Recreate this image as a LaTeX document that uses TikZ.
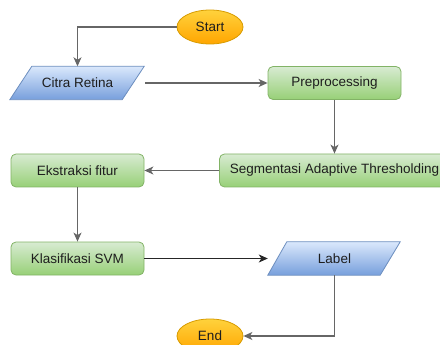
\documentclass[tikz,border=0pt]{standalone}
\usepackage{fontspec}
\setmainfont{Liberation Sans}
\usetikzlibrary{arrows.meta,shapes.geometric}
\definecolor{txt}{HTML}{1E1E1E}
\definecolor{orT}{HTML}{FFD23C}
\definecolor{orD}{HTML}{FFA500}
\definecolor{orB}{HTML}{D79B00}
\definecolor{grT}{HTML}{D8EBD2}
\definecolor{grD}{HTML}{97D077}
\definecolor{grB}{HTML}{82B366}
\definecolor{blT}{HTML}{DAE8FC}
\definecolor{blD}{HTML}{779FDC}
\definecolor{blB}{HTML}{6C8EBF}
\definecolor{lineG}{HTML}{666666}
\begin{document}
\begin{tikzpicture}[x=1pt,y=-1pt,
  font=\fontsize{13.5}{15}\selectfont, text=txt,
  proc/.style={rectangle, rounded corners=5pt, draw=grB, top color=grT, bottom color=grD,
    minimum width=133pt, minimum height=33pt, inner sep=0pt, line width=0.8pt},
  term/.style={ellipse, draw=orB, top color=orT, bottom color=orD,
    minimum width=66pt, minimum height=34pt, inner sep=0pt, line width=0.8pt},
  iobox/.style={rectangle, minimum width=135pt, minimum height=33pt, inner sep=0pt},
  para/.style={draw=blB, top color=blT, bottom color=blD, line width=0.8pt},
  conn/.style={draw=lineG, line width=1.2pt, -{Stealth[length=9pt,width=8pt,inset=2.5pt]}}
]
\useasboundingbox (0,0) rectangle (440,345);
\clip (0,0) rectangle (440,345);
% parallelogram backgrounds (anchors from the named boxes below)
\path (77.5,83) node[iobox] (citra) {};
\path (334.5,258.5) node[iobox, minimum width=133pt] (label) {};
\path[para] (citra.south west) -- ([xshift=22pt]citra.north west) -- ([xshift=-1pt]citra.north east)
  -- ([xshift=-23pt]citra.south east) -- cycle;
\path[para] (label.south west) -- ([xshift=19pt]label.north west) -- ([xshift=-1pt]label.north east)
  -- ([xshift=-21pt]label.south east) -- cycle;
\node at (citra) {Citra Retina};
\node at (label) {Label};
% other nodes
\node[term] (start) at (210,27) {Start};
\node[proc] (pre) at (334.5,83) {Preprocessing};
\node[proc, minimum width=230pt] (seg) at (334.5,170.5) {Segmentasi Adaptive Thresholding};
\node[proc] (ekstr) at (77.5,170.5) {Ekstraksi fitur};
\node[proc] (klas) at (77.5,258.5) {Klasifikasi SVM};
\node[term] (endn) at (210,336) {End};
% connectors
\draw[conn] (start.west) -| (citra.north);
\draw[conn] (citra.east) -- (pre.west);
\draw[conn] (pre.south) -- (seg.north);
\draw[conn] (seg.west) -- (ekstr.east);
\draw[conn] (ekstr.south) -- (klas.north);
\draw[conn, draw=black!85] (klas.east) -- (label.west);
\draw[conn] (label.south) |- (endn.east);
\end{tikzpicture}
\end{document}
